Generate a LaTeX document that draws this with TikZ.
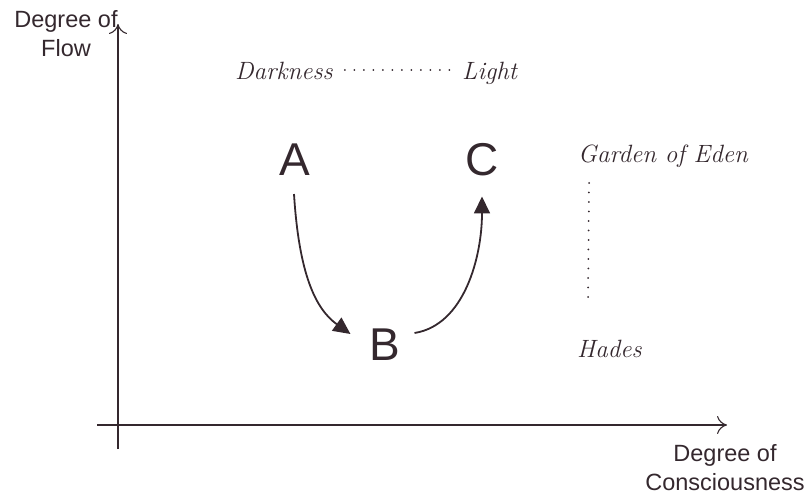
\documentclass[tikz,border=0pt]{standalone}
\usepackage{fontspec}
\setmainfont{Liberation Sans}
\newfontfamily\handfont{Latin Modern Roman}
\usetikzlibrary{arrows,arrows.meta,positioning,calc}
\definecolor{ink}{RGB}{52,40,46}

\begin{document}
\begin{tikzpicture}[x=1pt,y=-1pt,color=ink,
    axis/.style={line width=1.1pt,-{To[length=10pt,width=18pt,line width=1.1pt]}},
    flow/.style={line width=1.8pt,-{Triangle[length=17pt,width=16pt]}},
    letter/.style={inner sep=0pt,font=\fontsize{46}{46}\selectfont},
    script/.style={inner sep=0pt,font=\fontsize{25}{25}\handfont\itshape},
    lab/.style={align=center,inner sep=0pt,font=\fontsize{23.5}{29}\selectfont},
    dots/.style={line width=2pt,line cap=round,dash pattern=on 0pt off 9.5pt}]
    \useasboundingbox (0,0) rectangle (811,497);
    % axes
    \coordinate (org) at (118,425);
    \draw[axis] (118,449) -- (118,24);
    \draw[axis] (97,425) -- (727,425);
    \node[lab] (flowlab) at (66,34) {Degree of\\Flow};
    \node[lab] (conslab) at (725,468) {Degree of\\Consciousness};
    % darkness and light
    \node[script,anchor=base west] (dark) at (235,80) {Darkness};
    \node[script,anchor=base west] (light) at (462,80) {Light};
    \draw[dots] ([xshift=12pt,yshift=10pt]dark.base east) -- ([xshift=-10pt,yshift=10pt]light.base west);
    % the three states
    \node[letter] (A) at (295,160) {A};
    \node[letter] (C) at (482,160) {C};
    \node[letter] (B) at (385,345) {B};
    \draw[flow] ([xshift=-1pt,yshift=-18pt]A.south) .. controls +(5,80) and +(-35,-25) .. ([xshift=-19pt,yshift=11pt]B.west);
    \draw[flow] ([xshift=14pt,yshift=12pt]B.east) .. controls +(50,-8) and +(0,60) .. ([yshift=-20pt]C.south);
    % eden and hades
    \node[script,anchor=base west] (eden) at (578,163) {Garden of Eden};
    \node[script,anchor=base west] (hades) at (577,357) {Hades};
    \draw[dots] ([xshift=11pt,yshift=-20pt]eden.base west) -- ([xshift=11pt,yshift=60pt]hades.base west);
\end{tikzpicture}
\end{document}
